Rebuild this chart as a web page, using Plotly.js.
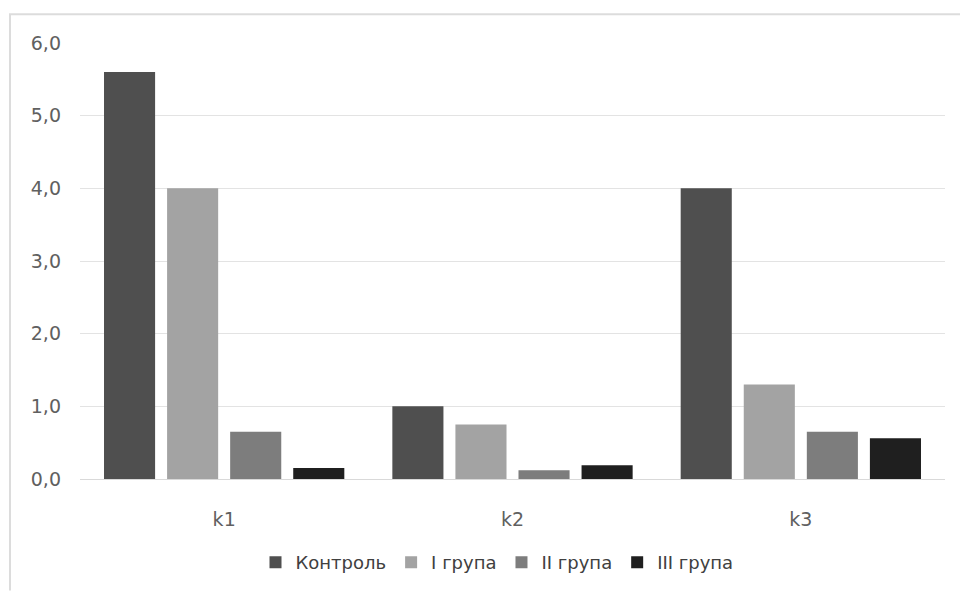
<!DOCTYPE html>
<html>
<head>
<meta charset="utf-8">
<script src="https://cdn.plot.ly/plotly-3.0.1.min.js"></script>
<style>
html,body{margin:0;padding:0;background:#fff;}
#chart{width:960px;height:593px;}
</style>
</head>
<body>
<div id="chart"></div>
<script>
const categories = ["k1", "k2", "k3"];
const seriesNames = ["Контроль", "I група", "II група", "III група"];
const control = [5.6, 1.0, 4.0];
const group1 = [4.0, 0.75, 1.3];
const group2 = [0.65, 0.12, 0.65];
const group3 = [0.15, 0.19, 0.56];
const yTicks = [0, 1, 2, 3, 4, 5, 6];

const colors = ["#4f4f4f", "#a3a3a3", "#7d7d7d", "#1f1f1f"];
const values = [control, group1, group2, group3];

const traces = values.map((v, i) => ({
  type: "bar",
  name: seriesNames[i],
  x: categories,
  y: v,
  marker: {color: colors[i], line: {width: 0}},
  hoverinfo: "x+y+name"
}));

const L = 80, R = 15, T = 43, B = 112;
const pw = 960 - L - R, ph = 593 - T - B;
const px = x => (x - L) / pw;
const py = y => (593 - B - y) / ph;

const layout = {
  width: 960, height: 593,
  margin: {l: L, r: R, t: T, b: B, pad: 0},
  paper_bgcolor: "#ffffff",
  plot_bgcolor: "#ffffff",
  separators: ", ",
  barmode: "group",
  bargap: 0.125,
  bargroupgap: 0.19,
  font: {family: "DejaVu Sans, Liberation Sans, sans-serif", color: "#606060", size: 18},
  xaxis: {
    type: "category",
    showgrid: false,
    showline: true,
    linecolor: "#d9d9d9",
    linewidth: 1,
    ticks: "",
    ticklabelstandoff: 23,
    tickfont: {size: 19, color: "#606060"}
  },
  yaxis: {
    range: [0, 6],
    tickvals: yTicks,
    tickformat: ".1f",
    showgrid: true,
    gridcolor: "#e3e3e3",
    gridwidth: 1,
    zeroline: false,
    showline: false,
    ticks: "",
    ticklabelstandoff: 18,
    tickfont: {size: 19, color: "#606060"}
  },
  showlegend: true,
  legend: {
    orientation: "h",
    x: px(497), xanchor: "center",
    y: py(565), yanchor: "middle",
    font: {size: 18, color: "#404040"},
    itemwidth: 30,
    traceorder: "normal",
    bgcolor: "rgba(0,0,0,0)"
  },
  shapes: [
    {type: "line", xref: "paper", yref: "paper", x0: px(9), x1: px(960), y0: py(14), y1: py(14), line: {color: "#dcdcdc", width: 2}},
    {type: "line", xref: "paper", yref: "paper", x0: px(10), x1: px(10), y0: py(14), y1: py(593), line: {color: "#dcdcdc", width: 2}}
  ]
};

Plotly.newPlot("chart", traces, layout, {displayModeBar: false, staticPlot: true});
</script>
</body>
</html>
